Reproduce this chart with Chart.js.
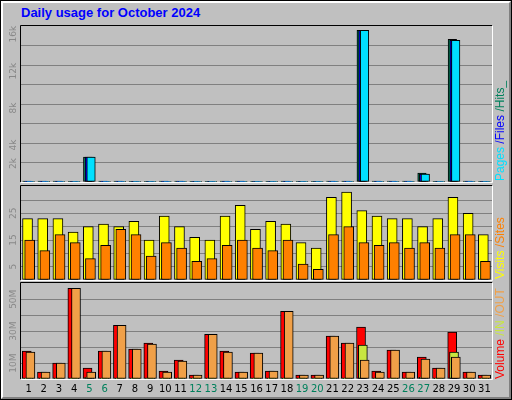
<!DOCTYPE html>
<html>
<head>
<meta charset="utf-8">
<script src="https://cdn.jsdelivr.net/npm/chart.js@4/dist/chart.umd.min.js"></script>
<style>
  body { margin: 0; background: #fff; }
  #wrap { position: absolute; left: 0; top: 0; width: 510px; height: 398px; background: #c0c0c0;
          border: 1px solid #000; overflow: hidden; font-family: "Liberation Sans", Arial, sans-serif; }
  #bevel { position: absolute; left: 0; top: 0; width: 506px; height: 394px;
           border-left: 2px solid #fff; border-top: 2px solid #fff; border-right: 2px solid #808080; border-bottom: 2px solid #808080; }
  canvas { position: absolute; left: 0; }
  #title { position: absolute; left: 20px; top: 4px; color: #0000ff; font-weight: bold; font-size: 13px; }
  .leg { position: absolute; font-size: 12px; white-space: nowrap; transform-origin: 0 0; transform: rotate(-90deg); }
</style>
</head>
<body>
<div id="wrap">
  <div id="bevel"></div>
  <div id="title">Daily usage for October 2024</div>
  <canvas id="c1" width="512" height="184" style="top:0"></canvas>
  <canvas id="c2" width="512" height="96" style="top:184px"></canvas>
  <canvas id="c3" width="512" height="119" style="top:281px"></canvas>
  <div class="leg" style="left:492px;top:180px"><span style="color:#00e0ff">Pages</span> <span style="color:#0000ff">/Files</span> <span style="color:#00805c">/Hits_</span></div>
  <div class="leg" style="left:492px;top:278px"><span style="color:#ffff00">Visits</span> <span style="color:#ff8000">/Sites</span></div>
  <div class="leg" style="left:492px;top:378px"><span style="color:#ff0000">Volume</span> <span style="color:#c8e640">/IN</span> <span style="color:#f0a048">/OUT</span></div>
</div>
<script>
const days = Array.from({length: 31}, (_, i) => i + 1);
const weekendDays = [5, 6, 12, 13, 19, 20, 26, 27];

const hits  = [90, 90, 90, 10, 2690, 90, 90, 10, 10, 90, 90, 10, 10, 90, 90, 10, 10, 90, 10, 10, 90, 90, 16420, 90, 90, 90, 970, 10, 15450, 90, 10];
const files = [40, 40, 40, 5, 2690, 40, 40, 5, 5, 40, 40, 5, 5, 40, 40, 5, 5, 40, 5, 5, 40, 40, 16400, 40, 40, 40, 860, 5, 15340, 40, 5];
const pages = [60, 60, 60, 5, 2690, 60, 60, 5, 5, 60, 60, 5, 5, 60, 60, 5, 5, 60, 5, 5, 60, 60, 16400, 60, 60, 60, 860, 5, 15340, 60, 5];

const visits = [23, 23, 23, 18, 20, 21, 20, 22, 15, 24, 20, 16, 15, 24, 28, 19, 22, 21, 14, 12, 31, 33, 26, 24, 23, 23, 20, 23, 31, 25, 17];
const sites  = [15, 11, 17, 14, 8, 13, 19, 17, 9, 14, 12, 7, 8, 13, 15, 12, 11, 15, 6, 4, 17, 20, 14, 13, 14, 12, 14, 12, 17, 17, 7];

// MB
const volume = [17.5, 4.4, 10, 56.9, 6.9, 17.5, 33.7, 18.7, 22.5, 5, 11.9, 2.5, 28, 17.5, 4.4, 16.2, 5, 42.5, 2.5, 2.5, 26.9, 22.5, 32.5, 5, 18.1, 4.4, 13.7, 6.9, 29.4, 4.4, 2.5];
const volIn  = [0.1, 0.1, 0.1, 0.1, 1, 0.1, 0.1, 0.1, 0.1, 0.1, 0.1, 0.1, 0.1, 0.1, 0.1, 0.1, 0.1, 0.1, 0.1, 0.1, 0.1, 0.1, 21.2, 0.1, 0.1, 0.1, 1, 0.1, 16.9, 0.1, 0.1];
const volOut = [16.9, 4.4, 10, 56.9, 4.4, 17.5, 33.7, 18.7, 21.9, 4.4, 11.2, 2.5, 28, 16.9, 4.4, 16.2, 5, 42.5, 2.5, 2.5, 26.9, 22.5, 11.9, 4.4, 18.1, 4.4, 12.5, 6.9, 13.7, 4.4, 2.5];

const topTicks = [2000, 4000, 8000, 12000, 16000];
const midTicks = [5, 15, 25];
const botTicks = [10, 30, 50];

function series(values, offset, color, order, thick) {
    return {
        data: values.map((v, i) => ({x: days[i] + offset, y: v})),
        backgroundColor: color, borderColor: '#000', borderWidth: 1,
        borderSkipped: false, barThickness: thick, grouped: false, order: order
    };
}

// frame + rotated y labels + day labels
const panelPlugin = {
    id: 'panel',
    afterDraw(chart, args, opts) {
        const ctx = chart.ctx, a = chart.chartArea, y = chart.scales.y;
        ctx.save();
        ctx.lineWidth = 1;
        ctx.strokeStyle = '#000';
        ctx.beginPath();
        ctx.moveTo(a.left - 0.5, a.bottom); ctx.lineTo(a.left - 0.5, a.top - 0.5); ctx.lineTo(a.right, a.top - 0.5);
        ctx.stroke();
        ctx.strokeStyle = '#fff';
        ctx.beginPath();
        ctx.moveTo(a.right + 0.5, a.top); ctx.lineTo(a.right + 0.5, a.bottom + 0.5); ctx.lineTo(a.left, a.bottom + 0.5);
        ctx.stroke();
        ctx.fillStyle = '#888';
        ctx.font = '9px "DejaVu Sans", sans-serif';
        ctx.textAlign = 'center';
        ctx.textBaseline = 'middle';
        opts.ticks.forEach(v => {
            ctx.save();
            ctx.translate(13, y.getPixelForValue(v));
            ctx.rotate(-Math.PI / 2);
            ctx.fillText(opts.fmt(v), 0, 0);
            ctx.restore();
        });
        if (opts.days) {
            const x = chart.scales.x;
            ctx.font = '10px "DejaVu Sans", sans-serif';
            days.forEach(d => {
                ctx.fillStyle = weekendDays.includes(d) ? '#00805c' : '#000';
                ctx.fillText(String(d), x.getPixelForValue(d), a.bottom + 10);
            });
        }
        ctx.restore();
    }
};

function makeChart(id, datasets, max, step, pad, ticks, fmt, showDays) {
    new Chart(document.getElementById(id), {
        type: 'bar',
        data: {datasets: datasets},
        options: {
            responsive: false, animation: false,
            layout: {padding: pad},
            plugins: {legend: {display: false}, tooltip: {enabled: false},
                      panel: {ticks: ticks, fmt: fmt, days: showDays}},
            scales: {
                x: {type: 'linear', min: 0.5, max: 31.5, offset: false, display: false},
                y: {min: 0, max: max, ticks: {display: false, stepSize: step},
                    border: {display: false},
                    grid: {drawTicks: false, lineWidth: 1,
                           color: c => (c.tick.value >= max - 0.001 || c.tick.value === 0) ? 'rgba(0,0,0,0)' : '#808080'}}
            }
        },
        plugins: [panelPlugin]
    });
}

makeChart('c1', [
    series(hits, -0.11, '#00805c', 3, 8.5),
    series(files, 0, '#0000ff', 2, 8.5),
    series(pages, 0.11, '#00e0ff', 1, 8.5)
], 16880, 2000, {left: 20, right: 21, top: 25, bottom: 3}, topTicks, v => (v / 1000) + 'k', false);

makeChart('c2', [
    series(visits, -0.07, '#ffff00', 2, 10),
    series(sites, 0.07, '#ff8000', 1, 10)
], 35.25, 5, {left: 20, right: 21, top: 1, bottom: 1}, midTicks, v => String(v), false);

makeChart('c3', [
    series(volume, -0.12, '#ff0000', 3, 9),
    series(volIn, 0, '#c8e640', 2, 9),
    series(volOut, 0.12, '#f0a048', 1, 9)
], 60.2, 10, {left: 20, right: 21, top: 1, bottom: 22}, botTicks, v => v + 'M', true);
</script>
</body>
</html>
